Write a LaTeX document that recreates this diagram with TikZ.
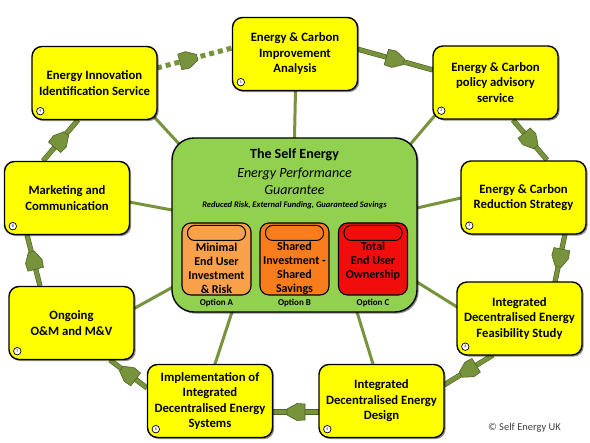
\documentclass[tikz,border=0pt]{standalone}
\usepackage{fontspec}
\setmainfont{Carlito}
\usetikzlibrary{shadows,decorations.markings}
\definecolor{olv}{HTML}{77933C}
\definecolor{olvd}{HTML}{4F6228}
\definecolor{ylw}{HTML}{FFFF00}
\definecolor{grn}{HTML}{92D050}
\definecolor{orA}{HTML}{F9A04A}
\definecolor{orB}{HTML}{F97D1C}
\definecolor{redC}{HTML}{F20D0D}
\definecolor{cpy}{HTML}{404040}
\begin{document}
\begin{tikzpicture}[x=1pt,y=1pt,
  shd/.style={drop shadow={shadow xshift=1.6pt,shadow yshift=-1.6pt,fill=black,opacity=0.45}},
  box/.style={draw=black,line width=1.4pt,fill=ylw,rounded corners=10pt,
    minimum width=125pt,minimum height=73pt,inner sep=0pt,align=center,
    font=\fontsize{12.7}{15.5}\selectfont\bfseries,shd},
  optbox/.style={draw=black,line width=1.1pt,rounded corners=9pt,
    minimum width=69pt,minimum height=72pt,inner sep=0pt},
  pill/.style={draw=black,line width=1pt,rounded corners=7pt,
    minimum width=58pt,minimum height=15pt,inner sep=0pt},
  opttxt/.style={align=center,inner sep=0pt,font=\fontsize{12}{14}\selectfont\bfseries},
  optlbl/.style={inner sep=0pt,font=\fontsize{9}{10}\selectfont\bfseries},
  numc/.style={circle,draw=black,line width=0.7pt,fill=white,inner sep=0pt,
    minimum size=7.5pt,font=\fontsize{4}{4}\selectfont},
  spoke/.style={draw=olv,line width=3pt,shorten <=-8pt,shorten >=-6pt},
  ring/.style={draw=olvd,double=olv,double distance=4pt,line width=0.6pt},
  dotring/.style={draw=olv,line width=5pt,dash pattern=on 5pt off 4pt},
  mk/.style={postaction={decorate,decoration={markings,mark=at position #1 with
    {\filldraw[solid,fill=olv,draw=olvd,line width=0.6pt]
      (-9pt,-8pt)--(-1pt,-8.5pt)--(9pt,-3pt)--(9pt,3pt)--(-1pt,8.5pt)--(-9pt,8pt)--cycle;}}}}
]
\useasboundingbox[fill=white] (0,0) rectangle (590,443);

% node positions
\coordinate (p1) at (295,389);
\coordinate (p2) at (495.5,360.5);
\coordinate (p3) at (523.5,245.5);
\coordinate (p4) at (519.5,124.5);
\coordinate (p5) at (381.5,42);
\coordinate (p6) at (210,42);
\coordinate (p7) at (71.5,120);
\coordinate (p8) at (67,245);
\coordinate (p9) at (94.5,360);
\coordinate (pc) at (294.5,218);

% spokes
\draw[spoke] ([shift={(0,87)}]pc) -- ([shift={(0.5,-36)}]p1);
\draw[spoke] ([shift={(113.5,78)}]pc) -- ([shift={(-58.5,-30.5)}]p2);
\draw[spoke] ([shift={(122.5,17)}]pc) -- ([shift={(-62.5,-0.5)}]p3);
\draw[spoke] ([shift={(122.5,-57)}]pc) -- ([shift={(-62.5,11.5)}]p4);
\draw[spoke] ([shift={(62.5,-87)}]pc) -- ([shift={(-8.5,37)}]p5);
\draw[spoke] ([shift={(-62.5,-87)}]pc) -- ([shift={(5,37)}]p6);
\draw[spoke] ([shift={(-121.5,-62)}]pc) -- ([shift={(63.5,15)}]p7);
\draw[spoke] ([shift={(-122.5,15)}]pc) -- ([shift={(62,-4)}]p8);
\draw[spoke] ([shift={(-114.5,80)}]pc) -- ([shift={(62.5,-37)}]p9);

% ring
\draw[ring,mk=0.5] ([shift={(62,5)}]p1) -- ([shift={(-62.5,12.5)}]p2);
\draw[ring,mk=0.5] ([shift={(17.5,-37.5)}]p2) -- ([shift={(23.5,37.5)}]p3);
\draw[ring,mk=0.5] ([shift={(41.5,-36.5)}]p3) -- ([shift={(35.5,36.5)}]p4);
\draw[ring,mk=0.5] ([shift={(-26.5,-36.5)}]p4) -- ([shift={(62.5,16)}]p5);
\draw[ring,mk=0.5] ([shift={(-62.5,-11)}]p5) -- ([shift={(63,-11)}]p6);
\draw[ring,mk=0.5] ([shift={(-63,13)}]p6) -- ([shift={(38.5,-37)}]p7);
\draw[ring,mk=0.5] ([shift={(-31.5,37)}]p7) -- ([shift={(-40,-37)}]p8);
\draw[ring,mk=0.5] ([shift={(-24,37)}]p8) -- ([shift={(-16.5,-37)}]p9);
\draw[dotring,mk=0.42] ([shift={(62.5,15)}]p9) -- ([shift={(-63,6)}]p1);

% centre box
\node[draw=black,line width=1.4pt,fill=grn,rounded corners=22pt,
  minimum width=245pt,minimum height=174pt,shd] (c) at (pc) {};
\node[inner sep=0pt,font=\fontsize{14}{16}\selectfont\bfseries] (t1) at (294.5,288) {The Self Energy};
\node[inner sep=0pt,align=center,font=\fontsize{14}{17}\selectfont\itshape] (t2) at (294.5,261.5) {Energy Performance\\Guarantee};
\node[inner sep=0pt,font=\fontsize{8.5}{10}\selectfont\bfseries\itshape] (t3) at (294.5,238) {Reduced Risk, External Funding, Guaranteed Savings};

% options
\node[optbox,fill=orA] (oa) at (216.5,184) {};
\node[optbox,fill=orB] (ob) at (294.5,184) {};
\node[optbox,fill=redC] (oc) at (373,184) {};
\node[pill,fill=orA] (pa) at ([yshift=-10.5pt]oa.north) {};
\node[pill,fill=orB] (pb) at ([yshift=-10.5pt]ob.north) {};
\node[pill,fill=redC] (pcc) at ([yshift=-10.5pt]oc.north) {};
\node[opttxt] (ta) at (216.5,175) {Minimal\\End User\\Investment\\\& Risk};
\node[opttxt] (tb) at (294.5,175) {Shared\\Investment -\\Shared\\Savings};
\node[opttxt] (tc) at (373,182) {Total\\End User\\Ownership};
\node[optlbl] (la) at (216.5,140) {Option A};
\node[optlbl] (lb) at (294.5,140) {Option B};
\node[optlbl] (lc) at (373,140) {Option C};

% outer boxes
\node[box] (b1) at (p1) {Energy \& Carbon\\Improvement\\Analysis};
\node[box] (b2) at (p2) {Energy \& Carbon\\policy advisory\\service};
\node[box] (b3) at (p3) {Energy \& Carbon\\Reduction Strategy};
\node[box] (b4) at (p4) {Integrated\\Decentralised Energy\\Feasibility Study};
\node[box] (b5) at (p5) {Integrated\\Decentralised Energy\\Design};
\node[box] (b6) at (p6) {Implementation of\\Integrated\\Decentralised Energy\\Systems};
\node[box] (b7) at (p7) {Ongoing\\O\&M and M\&V};
\node[box] (b8) at (p8) {Marketing and\\Communication};
\node[box] (b9) at (p9) {Energy Innovation\\Identification Service};

% number circles
\node[numc] (n1) at ([shift={(9,9)}]b1.south west) {1};
\node[numc] (n2) at ([shift={(9,9)}]b2.south west) {2};
\node[numc] (n3) at ([shift={(9,9)}]b3.south west) {3};
\node[numc] (n4) at ([shift={(9,9)}]b4.south west) {4};
\node[numc] (n5) at ([shift={(9,9)}]b5.south west) {5};
\node[numc] (n6) at ([shift={(9,9)}]b6.south west) {6};
\node[numc] (n7) at ([shift={(9,9)}]b7.south west) {7};
\node[numc] (n8) at ([shift={(9,9)}]b8.south west) {8};
\node[numc] (n9) at ([shift={(9,9)}]b9.south west) {9};

% copyright
\node[inner sep=0pt,text=cpy,font=\fontsize{10.5}{12}\selectfont] (cp) at (524.5,15) {© Self Energy UK};
\end{tikzpicture}
\end{document}
